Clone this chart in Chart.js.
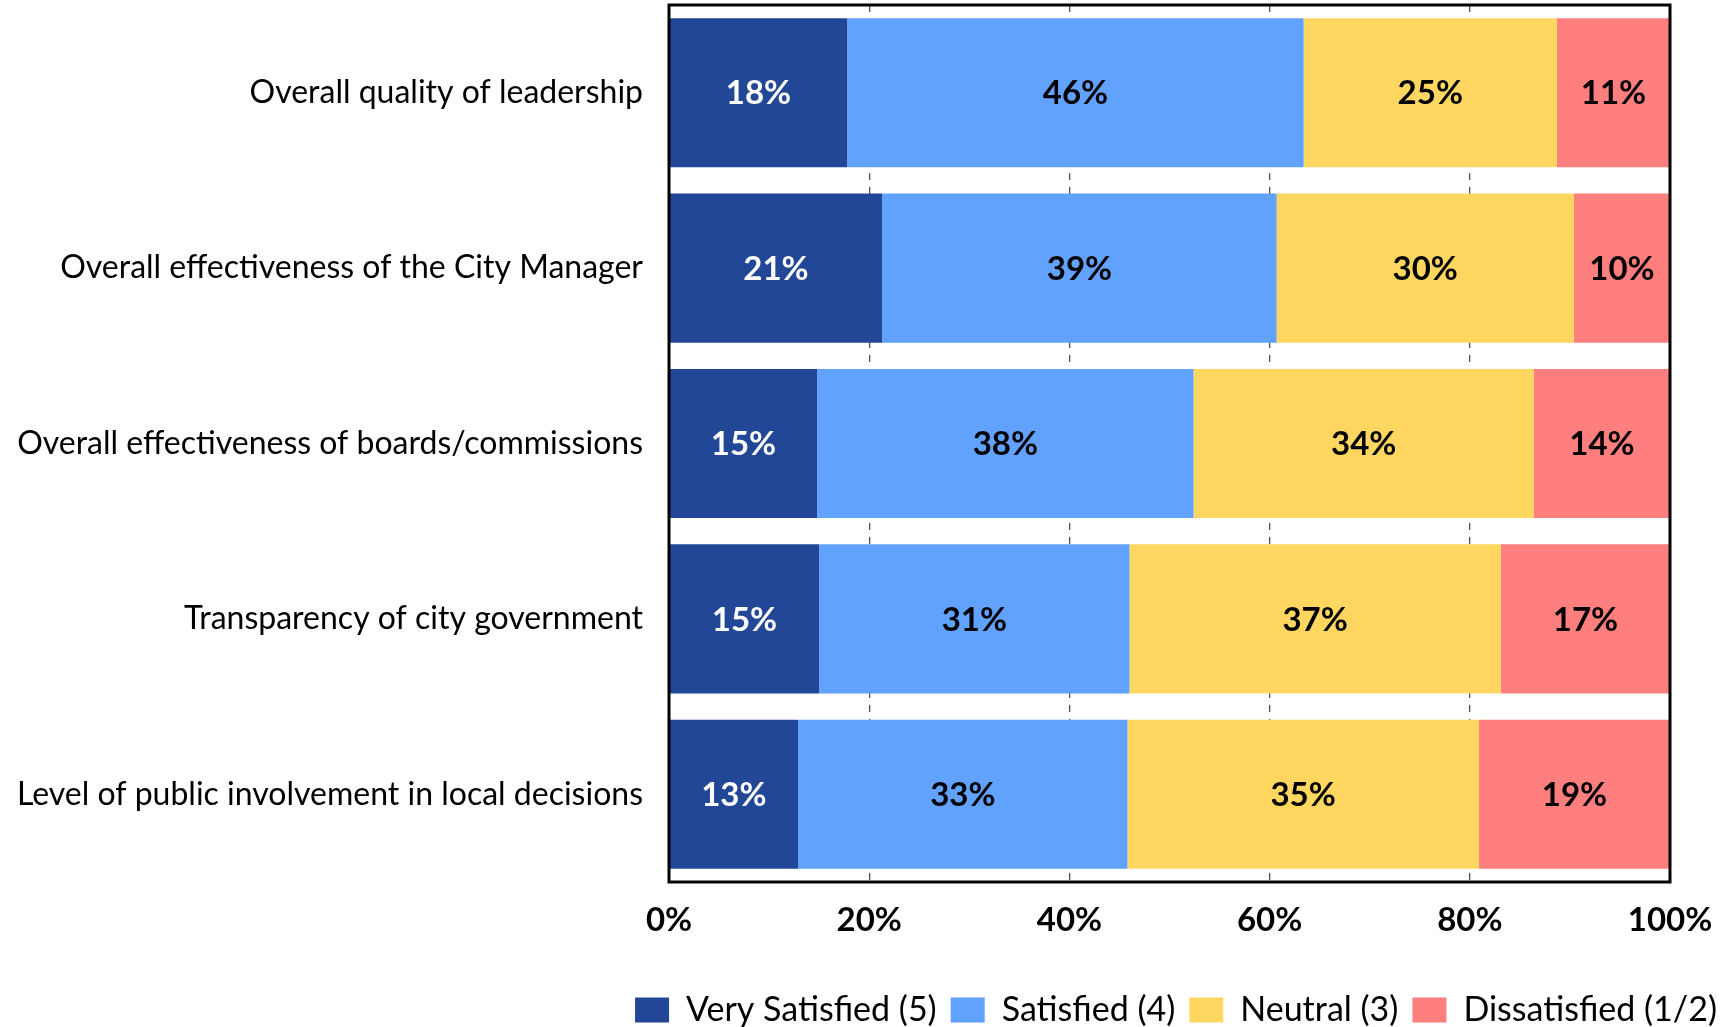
<!DOCTYPE html>
<html>
<head>
<meta charset="utf-8">
<script src="https://cdn.jsdelivr.net/npm/chart.js@4/dist/chart.umd.min.js"></script>
<style>
  html, body { margin: 0; padding: 0; background: #fff; }
  #wrap { width: 1731px; height: 1027px; }
</style>
</head>
<body>
<div id="wrap"><canvas id="chart"></canvas></div>
<script>
const categories = [
  "Overall quality of leadership",
  "Overall effectiveness of the City Manager",
  "Overall effectiveness of boards/commissions",
  "Transparency of city government",
  "Level of public involvement in local decisions"
];
const seriesNames = ["Very Satisfied (5)", "Satisfied (4)", "Neutral (3)", "Dissatisfied (1/2)"];
const verySatisfied = [17.8, 21.3, 14.8, 15.0, 12.9];
const satisfied = [45.6, 39.4, 37.6, 31.0, 32.9];
const neutral = [25.3, 29.7, 34.0, 37.1, 35.1];
const dissatisfied = [11.3, 9.6, 13.6, 16.9, 19.1];
const xTicks = [0, 20, 40, 60, 80, 100];

const colors = ["#214796", "#61A2FF", "#FFD760", "#FF7F7F"];
const labelColors = ["#ffffff", "#000000", "#000000", "#000000"];
const FONT = "Lato, 'Open Sans', sans-serif";

// 数据标签
const barLabels = {
  id: "barLabels",
  afterDatasetsDraw(chart) {
    const ctx = chart.ctx;
    ctx.save();
    ctx.font = "bold 33px " + FONT;
    ctx.textAlign = "center";
    ctx.textBaseline = "middle";
    chart.data.datasets.forEach((ds, i) => {
      const meta = chart.getDatasetMeta(i);
      meta.data.forEach((el, j) => {
        const p = el.getCenterPoint();
        ctx.fillStyle = labelColors[i];
        ctx.fillText(Math.round(ds.data[j]) + "%", p.x, p.y + 1);
      });
    });
    ctx.restore();
  }
};

// 外框
const frame = {
  id: "frame",
  afterDraw(chart) {
    const a = chart.chartArea;
    const ctx = chart.ctx;
    ctx.save();
    ctx.strokeStyle = "#000";
    ctx.lineWidth = 3;
    ctx.strokeRect(a.left, a.top, a.right - a.left, a.bottom - a.top);
    ctx.restore();
  }
};

const datasets = [verySatisfied, satisfied, neutral, dissatisfied].map((d, i) => ({
  label: seriesNames[i],
  data: d,
  backgroundColor: colors[i],
  borderWidth: 0,
  barPercentage: 0.85,
  categoryPercentage: 1
}));

new Chart(document.getElementById("chart"), {
  type: "bar",
  data: { labels: categories, datasets },
  options: {
    indexAxis: "y",
    responsive: true,
    maintainAspectRatio: false,
    animation: false,
    layout: { padding: { top: 5, right: 0, left: 0, bottom: -10 } },
    scales: {
      x: {
        stacked: true,
        min: 0,
        max: 100,
        afterBuildTicks: s => { s.ticks = xTicks.map(v => ({ value: v })); },
        afterFit: s => { s.height = 97; s.paddingLeft = 0; s.paddingRight = 0; },
        grid: {
          color: c => (c.tick.value === 0 || c.tick.value === 100) ? "rgba(0,0,0,0)" : "#555",
          lineWidth: 1.3,
          drawTicks: false
        },
        border: { display: false, dash: [7, 7] },
        ticks: {
          padding: 19,
          color: "#000",
          font: { family: FONT, size: 33, weight: "bold" },
          callback: v => v + "%"
        }
      },
      y: {
        stacked: true,
        afterFit: s => { s.width = 669; s.paddingTop = 0; s.paddingBottom = 0; },
        grid: { display: false, drawTicks: false },
        border: { display: false },
        ticks: {
          padding: 26,
          color: "#000",
          font: { family: FONT, size: 32 }
        }
      },
      yRight: {
        position: "right",
        afterFit: s => { s.width = 61; s.paddingTop = 0; s.paddingBottom = 0; },
        grid: { display: false, drawTicks: false },
        border: { display: false },
        ticks: { display: false }
      }
    },
    plugins: {
      legend: {
        position: "bottom",
        align: "end",
        labels: {
          color: "#000",
          font: { family: FONT, size: 34 },
          boxWidth: 34,
          boxHeight: 25,
          padding: 14
        }
      },
      tooltip: { enabled: false }
    }
  },
  plugins: [barLabels, frame]
});
</script>
</body>
</html>
